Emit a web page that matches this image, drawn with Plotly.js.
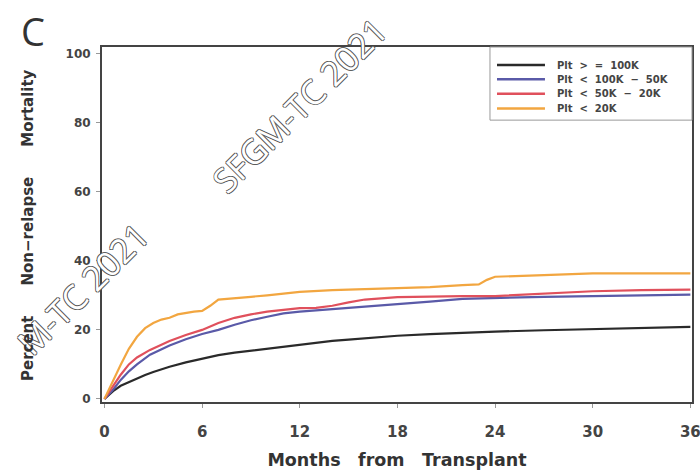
<!DOCTYPE html>
<html>
<head>
<meta charset="utf-8">
<script src="https://cdn.plot.ly/plotly-3.0.1.min.js"></script>
<style>html,body{margin:0;padding:0;background:#fff}#chart{width:700px;height:471px}</style>
</head>
<body>
<div id="chart"></div>
<script>
// Series names (legend labels)
const seriesNames = ["Plt  >  =  100K", "Plt  <  100K  \u2212  50K", "Plt  <  50K  \u2212  20K", "Plt  <  20K"];

// Months from transplant / cumulative incidence (%) per group
const tBlack = [0,0.3,0.6,1,1.5,2,2.5,3,3.5,4,5,6,7,8,9,10,11,12,13,14,15,16,18,20,22,24,27,30,33,36];
const vBlack = [0,1.2,2.5,3.8,4.9,5.8,6.9,7.8,8.6,9.3,10.6,11.6,12.7,13.4,14.0,14.6,15.2,15.7,16.3,16.8,17.2,17.6,18.3,18.8,19.2,19.5,19.9,20.3,20.6,20.9];

const tBlue = [0,0.5,1,1.5,2,2.8,4,5,6,7,8,9,10,11,12,14,16,18,20,22,24,27,30,33,36];
const vBlue = [0,2.5,5.5,8.0,10.0,12.8,15.5,17.3,18.8,20.0,21.5,22.8,23.8,24.8,25.3,26.0,26.7,27.3,28.2,29.0,29.3,29.6,29.8,30.0,30.2];

const tRed = [0,0.5,1,1.5,2,2.8,4,5,6,7,8,9,10,11,12,13,14,15,16,18,20,22,24,26,28,30,33,36];
const vRed = [0,3.5,7.0,10.0,12.0,14.2,16.8,18.5,20.0,22.0,23.5,24.5,25.3,25.8,26.3,26.4,27.0,28.0,28.8,29.5,29.7,29.8,29.8,30.2,30.8,31.2,31.5,31.7];

const tOrange = [0,0.3,0.6,1,1.5,2,2.5,3,3.5,4,4.5,5,5.5,6,6.5,7,8,9,10,11,12,14,16,18,20,22,23,23.5,24,27,30,33,36];
const vOrange = [0,3.0,6.0,9.9,14.5,18.0,20.5,22.0,23.0,23.5,24.5,25.0,25.3,25.5,27.0,28.8,29.3,29.6,30.0,30.5,31.0,31.5,31.8,32.0,32.4,33.0,33.2,34.5,35.4,35.9,36.4,36.4,36.4];

const xTicks = [0,6,12,18,24,30,36];
const yTicks = [0,20,40,60,80,100];
const xTitle = "Months\u2003from\u2003Transplant";
const yTitle = "Percent\u2003\u2003Non\u2212relapse\u2003\u2003Mortality";

const colors = ["#2a2a2a", "#5a5aa8", "#e0505c", "#f2a640"];
const xs = [tBlack, tBlue, tRed, tOrange];
const ys = [vBlack, vBlue, vRed, vOrange];

const traces = xs.map((x, i) => ({
  x: x, y: ys[i], type: "scatter", mode: "lines", name: seriesNames[i],
  line: {color: colors[i], width: 2.2, shape: "linear"}, showlegend: false
}));

// Legend drawn as a boxed key in the top-right corner of the plot
const legX0 = 0.6576, legLine0 = 0.6695, legLine1 = 0.7508, legText = 0.7678;
const legY = [0.949, 0.909, 0.868, 0.827];
const shapes = [
  {type: "rect", xref: "paper", yref: "paper", x0: legX0, x1: 1, y0: 0.794, y1: 1,
    line: {color: "#999", width: 1}, fillcolor: "#ffffff", layer: "above"}
];
const annotations = [];
seriesNames.forEach((n, i) => {
  shapes.push({type: "line", xref: "paper", yref: "paper", x0: legLine0, x1: legLine1, y0: legY[i], y1: legY[i],
    line: {color: colors[i], width: 2.5}, layer: "above"});
  annotations.push({text: n.replace(/ /g, "\u00a0"), xref: "paper", yref: "paper", x: legText, y: legY[i],
    xanchor: "left", yanchor: "middle", showarrow: false,
    font: {family: "DejaVu Sans", size: 10, color: "#444", weight: "bold"}});
});

const wmFont = {family: "Open Sans, Liberation Sans, sans-serif", size: 34, color: "#ffffff",
  shadow: "1px 0 0 #555, -1px 0 0 #555, 0 1px 0 #555, 0 -1px 0 #555"};

annotations.push(
  {text: "C", xref: "paper", yref: "paper", x: -0.117, y: 1.045, xanchor: "center", yanchor: "middle",
    showarrow: false, font: {family: "Open Sans, sans-serif", size: 38, color: "#333"}},
  {text: "SFGM-TC 2021", xref: "paper", yref: "paper", x: 0.335, y: 0.836, xanchor: "center", yanchor: "middle",
    textangle: -45, showarrow: false, font: wmFont},
  {text: "M-TC 2021", xref: "paper", yref: "paper", x: -0.033, y: 0.318, xanchor: "center", yanchor: "middle",
    textangle: -45, showarrow: false, font: wmFont},
  // y-axis title, drawn after the watermark so it stays legible
  {text: yTitle, xref: "paper", yref: "paper", x: -0.1254, y: 0.4986, xanchor: "center", yanchor: "middle",
    textangle: -90, showarrow: false, font: {family: "DejaVu Sans", size: 15, color: "#333", weight: "bold"}}
);

const layout = {
  width: 700, height: 471,
  margin: {l: 102, r: 8, t: 47, b: 69},
  paper_bgcolor: "#ffffff", plot_bgcolor: "#ffffff",
  showlegend: false,
  xaxis: {range: [-0.15, 36.1], tickvals: xTicks, ticktext: xTicks.map(String),
    showgrid: false, zeroline: false, showline: true, linecolor: "#444", linewidth: 2, mirror: true,
    ticks: "outside", ticklen: 4, tickcolor: "#999", tickwidth: 1, ticklabelstandoff: 11,
    ticklabeloverflow: "allow",
    tickfont: {family: "DejaVu Sans", size: 15, color: "#444", weight: "bold"},
    title: {text: xTitle, standoff: 14,
      font: {family: "DejaVu Sans", size: 17.5, color: "#333", weight: "bold"}}},
  yaxis: {range: [-0.9, 102], tickvals: yTicks, ticktext: yTicks.map(String),
    showgrid: false, zeroline: false, showline: true, linecolor: "#444", linewidth: 2, mirror: true,
    ticks: "outside", ticklen: 4, tickcolor: "#999", tickwidth: 1, ticklabelstandoff: 3,
    tickfont: {family: "DejaVu Sans", size: 12, color: "#444", weight: "bold"}},
  shapes: shapes,
  annotations: annotations
};

Plotly.newPlot("chart", traces, layout, {displayModeBar: false, staticPlot: true});
</script>
</body>
</html>
